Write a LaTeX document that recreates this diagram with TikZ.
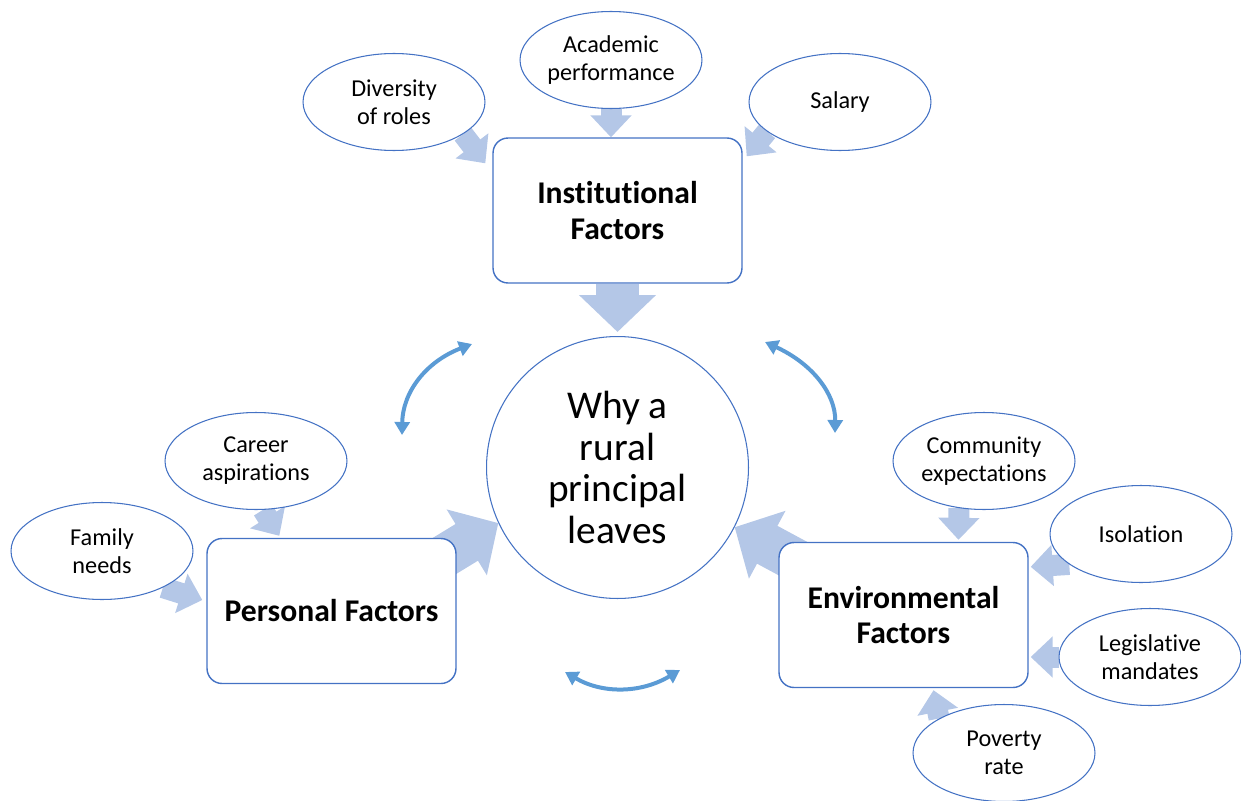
\documentclass[tikz,border=0pt]{standalone}
\usepackage{fontspec}
\setmainfont[Ligatures=NoCommon]{Carlito}
\usetikzlibrary{arrows.meta,calc,shapes.geometric,backgrounds}

\definecolor{edgeblue}{HTML}{4472C4}
\definecolor{fatblue}{HTML}{B4C7E7}
\definecolor{loopblue}{HTML}{5B9BD5}

\tikzset{
  factor/.style={draw=edgeblue, line width=0.8pt, rounded corners=0.3cm, fill=white,
    minimum width=4.98cm, minimum height=2.9cm, align=center,
    font=\fontsize{18}{20}\selectfont\bfseries},
  cause/.style={ellipse, draw=edgeblue, line width=0.6pt, fill=white, inner sep=0pt,
    minimum width=3.64cm, minimum height=1.94cm, align=center,
    font=\fontsize{13.8}{15.9}\selectfont},
  feed/.style={draw=fatblue, line width=0.42cm, -{Triangle[width=0.8cm,length=0.44cm]}},
  push/.style={draw=fatblue, line width=0.86cm, -{Triangle[width=1.5cm,length=0.74cm]}},
  mutual/.style={draw=loopblue, line width=0.08cm,
    {Triangle[width=0.3cm,length=0.26cm]}-{Triangle[width=0.3cm,length=0.26cm]}}
}

\begin{document}
\begin{tikzpicture}[x=0.02cm,y=-0.02cm]
  \useasboundingbox (0,0) rectangle (1241,801);

  % centre and the three groups of factors
  \node[circle, draw=edgeblue, line width=0.6pt, fill=white, minimum size=5.24cm,
    align=center, font=\fontsize{22.4}{23.8}\selectfont] (why) at (617.5,467.5)
    {Why a\\rural\\principal\\leaves};
  \node[factor] (inst) at (617.5,210.5) {Institutional\\Factors};
  \node[factor] (pers) at (331.5,611) {Personal Factors};
  \node[factor] (env) at (903.5,615) {Environmental\\Factors};

  % single causes
  \node[cause] (div) at (394,102) {Diversity\\of roles};
  \node[cause] (acad) at (611,60) {Academic\\performance};
  \node[cause] (sal) at (840,102) {Salary};
  \node[cause] (car) at (256,461) {Career\\aspirations};
  \node[cause] (fam) at (102,551) {Family\\needs};
  \node[cause] (com) at (984,461) {Community\\expectations};
  \node[cause] (iso) at (1141,534) {Isolation};
  \node[cause] (leg) at (1150,657) {Legislative\\mandates};
  \node[cause] (pov) at (1004,753) {Poverty\\rate};

  \begin{scope}[on background layer]
    % causes into their group
    \draw[feed] (div.-25) -- ($(inst.north west)+(-7,26)$);
    \draw[feed] (acad.south) -- (acad.south |- inst.north);
    \draw[feed] (sal.-158) -- ($(inst.north east)+(4,19)$);
    \draw[feed] (car.-82) -- ($(pers.north west)+(73,-2)$);
    \draw[feed] (fam.-31) -- ($(pers.west)+(-4,-11)$);
    \draw[feed] (com.-118) -- ($(env.north)+(55,-2)$);
    \draw[feed] (iso.-157) -- ($(env.north east)+(2,25)$);
    \draw[feed] (leg.west) -- ($(leg.west -| env.east)+(2,0)$);
    \draw[feed] (pov.152) -- ($(env.south)+(30,2)$);

    % groups into the centre
    \draw[push] (inst.south) -- ($(why.north)+(0,-4)$);
    \draw[push] ($(pers.north east)+(-30,29)$) -- (why.205);
    \draw[push] ($(env.north west)+(28,24)$) -- (why.-27);
  \end{scope}

  % the groups act on each other
  \coordinate (pi1) at (402,435);
  \coordinate (pi2) at (472,344);
  \coordinate (ie1) at (765,342);
  \coordinate (ie2) at (835,433);
  \coordinate (pe1) at (565,672);
  \coordinate (pe2) at (680,670);
  \draw[mutual] (pi1) .. controls (402.7,392) and (426,361.7) .. (pi2);
  \draw[mutual] (ie1) .. controls (812.3,363.7) and (835.7,394) .. (ie2);
  \draw[mutual] (pe1) .. controls (602.7,694) and (641,693.3) .. (pe2);
\end{tikzpicture}
\end{document}
